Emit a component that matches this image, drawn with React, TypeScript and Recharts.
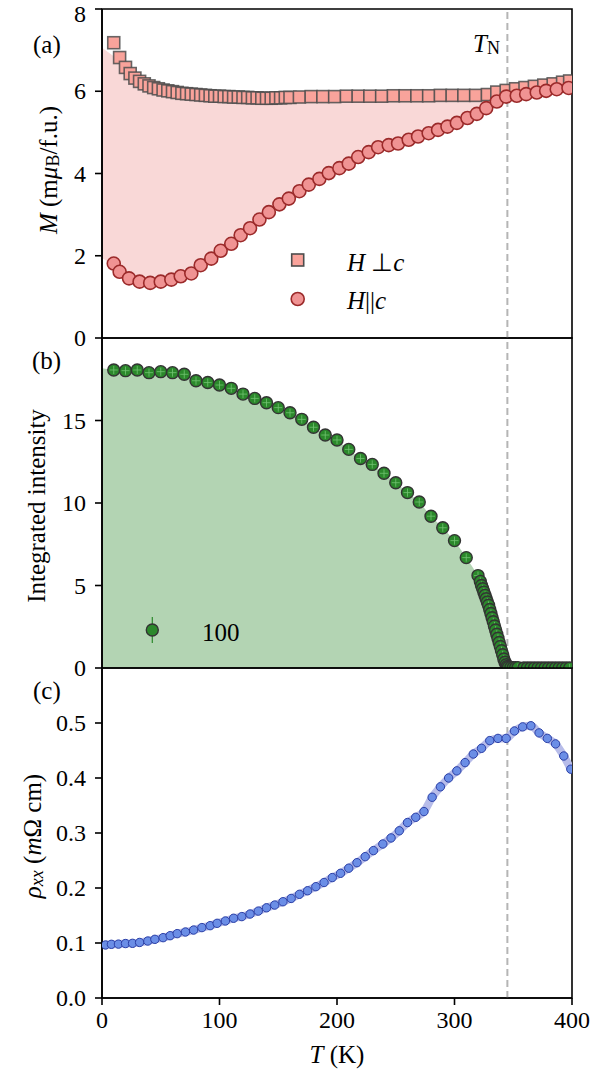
import React from 'react';
import {
  ComposedChart, Scatter, Area, Line, XAxis, YAxis, ReferenceLine, ReferenceArea,
} from 'recharts';

// (a) magnetization, H perpendicular to c (squares)
const T_PERP = [10, 15, 20, 24, 28, 32, 36, 40, 44, 48, 52, 56, 60, 64, 68, 72, 76, 80, 84, 88, 92, 96, 100, 104, 108, 112, 116, 120, 124, 128, 132, 136, 140, 144, 148, 152, 156, 160,
  168, 178, 188, 198, 208, 218, 228, 238, 248, 258, 268, 278, 288, 298, 308, 318, 328, 336, 344, 352, 360, 368, 376, 384, 392, 398];
const M_PERP = [7.18, 6.82, 6.58, 6.43, 6.32, 6.24, 6.18, 6.13, 6.09, 6.06, 6.03, 6.01, 5.99, 5.97, 5.95, 5.94, 5.93, 5.92, 5.91, 5.9, 5.89, 5.88, 5.88, 5.87, 5.87, 5.86, 5.86, 5.85, 5.85, 5.84, 5.84, 5.83, 5.83, 5.83, 5.84, 5.84, 5.85, 5.85,
  5.86, 5.87, 5.87, 5.87, 5.88, 5.88, 5.88, 5.88, 5.89, 5.89, 5.89, 5.89, 5.9, 5.9, 5.9, 5.9, 5.92, 5.98, 6.02, 6.06, 6.09, 6.12, 6.15, 6.18, 6.22, 6.25];

// (a) magnetization, H parallel to c (circles)
const T_PAR = [10, 15, 23, 32, 41, 50, 59, 67, 76, 84, 93, 101, 110, 118, 126, 134, 142, 151, 159, 168, 176, 185, 193, 202, 210, 218, 227, 235, 244, 252, 261, 269, 278, 286, 294, 302, 311, 319, 327, 336, 344, 353, 361, 370, 378, 387, 397];
const M_PAR = [1.81, 1.61, 1.45, 1.37, 1.34, 1.37, 1.42, 1.5, 1.57, 1.77, 1.93, 2.12, 2.29, 2.5, 2.67, 2.88, 3.06, 3.25, 3.39, 3.57, 3.73, 3.87, 4.01, 4.13, 4.24, 4.4, 4.52, 4.64, 4.69, 4.73, 4.82, 4.9, 4.98, 5.06, 5.14, 5.23, 5.35, 5.45, 5.59, 5.75, 5.87, 5.89, 5.93, 5.97, 6.01, 6.05, 6.08];

// (a) shaded band between the two curves
const BAND_T = [0, 10, 20, 30, 40, 50, 60, 70, 80, 90, 100, 120, 140, 160, 180, 200, 220, 240, 260, 280, 300, 320, 340, 360, 380, 400];
const BAND_LO = [1.94, 1.78, 1.5, 1.39, 1.35, 1.37, 1.43, 1.52, 1.68, 1.88, 2.1, 2.54, 3.02, 3.41, 3.79, 4.1, 4.42, 4.68, 4.81, 5.0, 5.21, 5.46, 5.82, 5.93, 6.02, 6.1];
const BAND_HI = [7.06, 6.85, 6.55, 6.28, 6.13, 6.05, 5.99, 5.95, 5.92, 5.9, 5.88, 5.85, 5.83, 5.85, 5.87, 5.87, 5.88, 5.88, 5.89, 5.89, 5.9, 5.9, 5.96, 6.08, 6.15, 6.2];

// (b) integrated intensity of the 100 peak
const T_INT = [10, 20, 30, 40, 50, 60, 70, 80, 90, 100, 110, 120, 130, 140, 150, 160, 170, 180, 190, 200, 210, 220, 230, 240, 250, 260, 270, 280, 290, 300, 310, 320,
  322, 323, 324, 325, 326, 327, 328, 329, 330, 331, 332, 333, 334, 335, 336, 337, 338, 339, 340, 341, 342, 343, 344, 345, 346, 348, 350, 352, 354,
  359, 362, 365, 368, 371, 374, 377, 380, 383, 386, 389, 392, 395, 398];
const INT_VAL = [18.06, 18.02, 18.06, 17.9, 17.96, 17.9, 17.8, 17.41, 17.3, 17.15, 16.95, 16.6, 16.34, 16.08, 15.78, 15.47, 15.07, 14.59, 14.12, 13.82, 13.25, 12.7, 12.34, 11.8, 11.23, 10.63, 10.06, 9.2, 8.5, 7.72, 6.69, 5.6,
  5.25, 5.0, 4.8, 4.6, 4.4, 4.2, 4.0, 3.8, 3.55, 3.3, 3.05, 2.8, 2.55, 2.3, 2.05, 1.8, 1.55, 1.3, 1.05, 0.8, 0.55, 0.35, 0.2, 0.1, 0.05, 0.03, 0.02, 0.02, 0.02,
  0, 0, 0, 0, 0, 0, 0, 0, 0, 0, 0, 0, 0, 0];
const FILL_T = [0, 10, 20, 30, 40, 50, 60, 70, 80, 90, 100, 110, 120, 130, 140, 150, 160, 170, 180, 190, 200, 210, 220, 230, 240, 250, 260, 270, 280, 290, 300, 310, 320, 325, 330, 335, 340, 344, 346];
const FILL_V = [18.16, 18.06, 18.02, 18.06, 17.9, 17.96, 17.9, 17.8, 17.41, 17.3, 17.15, 16.95, 16.6, 16.34, 16.08, 15.78, 15.47, 15.07, 14.59, 14.12, 13.82, 13.25, 12.7, 12.34, 11.8, 11.23, 10.63, 10.06, 9.2, 8.5, 7.72, 6.69, 5.6, 4.6, 3.55, 2.3, 1.05, 0.2, 0];

// (c) resistivity
const T_RHO = [3, 8, 14, 20, 26, 32, 39, 45, 52, 58, 64, 71, 78, 85, 92, 98, 105, 112, 119, 126, 133, 140, 147, 154, 161, 168, 175, 182, 189, 196,
  203, 210, 217, 224, 231, 239, 246, 253, 260, 267, 274, 281, 288, 295, 302, 309, 316, 323, 330, 337, 344, 351, 358, 365, 372, 379, 386, 393, 399];
const RHO = [0.0964, 0.0976, 0.098, 0.099, 0.0994, 0.101, 0.1036, 0.1067, 0.1097, 0.1133, 0.117, 0.12, 0.1236, 0.128, 0.1315, 0.1358, 0.14, 0.145, 0.148, 0.1527,
  0.158, 0.164, 0.169, 0.175, 0.181, 0.1885, 0.195, 0.2024, 0.21, 0.219, 0.2267, 0.236, 0.246, 0.257, 0.268, 0.28, 0.291, 0.304, 0.319, 0.3285,
  0.339, 0.365, 0.384, 0.4, 0.413, 0.428, 0.4436, 0.454, 0.468, 0.472, 0.472, 0.4855, 0.493, 0.495, 0.482, 0.472, 0.462, 0.44, 0.416];

const T_TICKS = [0, 100, 200, 300, 400];
const M_TICKS = [0, 2, 4, 6, 8];
const INT_TICKS = [0, 5, 10, 15];
const RHO_TICKS = [0, 0.1, 0.2, 0.3, 0.4, 0.5];
const T_N = 345;

const zip = (xs: number[], ys: number[]) => xs.map((T, i) => ({ T, v: ys[i] }));
const perp = zip(T_PERP, M_PERP);
const par = zip(T_PAR, M_PAR);
const band = BAND_T.map((T, i) => ({ T, lo: BAND_LO[i], hi: BAND_HI[i] }));
const intensity = zip(T_INT, INT_VAL);
const intFill = zip(FILL_T, FILL_V);
const rho = zip(T_RHO, RHO);

const FONT = 'Liberation Serif, serif';
const FS = 25;
const tickStyle = { fill: '#000', fontSize: 24, fontFamily: FONT };
const axisLine = { stroke: '#000', strokeWidth: 1.6 };

// y tick label; the topmost one of panel (a) sits at the page edge, nudge it in
const YTick = (p: any) => (
  <text x={p.x} y={p.y + (p.payload.value === 8 ? 5 : 0)} textAnchor="end" dominantBaseline="central"
    fill="#000" fontSize={24} fontFamily={FONT}>
    {p.tickFormatter ? p.tickFormatter(p.payload.value) : p.payload.value}
  </text>
);

const Square = (p: any) => (
  <rect x={p.cx - 6} y={p.cy - 6} width={12} height={12} fill="#f9a39b" stroke="#4d4d4d" strokeWidth={1.6} strokeOpacity={0.85} />
);
const PinkDot = (p: any) => (
  <circle cx={p.cx} cy={p.cy} r={6.5} fill="#f09393" stroke="#9b2a2a" strokeWidth={1.6} />
);
const GreenDot = (p: any) => (
  <g>
    <circle cx={p.cx} cy={p.cy} r={6} fill="#2b882b" stroke="#333" strokeWidth={1.4} />
    <line x1={p.cx - 4} x2={p.cx + 4} y1={p.cy} y2={p.cy} stroke="#72c472" strokeWidth={0.8} />
    <line x1={p.cx} x2={p.cx} y1={p.cy - 4} y2={p.cy + 4} stroke="#72c472" strokeWidth={0.8} />
  </g>
);
const BlueDot = (p: any) => (
  <circle cx={p.cx} cy={p.cy} r={4.2} fill="#6b8ee6" stroke="#2b3fa6" strokeWidth={1} />
);

const frame = (y2: number) => (
  <ReferenceArea x1={0} x2={400} y1={0} y2={y2} fill="none" stroke="#000" strokeWidth={1.6} ifOverflow="visible" />
);
const tnLine = <ReferenceLine x={T_N} stroke="#b5b5b5" strokeWidth={2} strokeDasharray="7 4" />;

const yAxisProps = {
  type: 'number' as const, dataKey: 'v', width: 102, tick: YTick, interval: 0 as const,
  tickSize: 7, tickMargin: 9, tickLine: axisLine, axisLine, allowDataOverflow: true,
};

function PanelA() {
  return (
    <ComposedChart width={612} height={400} data={band} margin={{ top: 39, right: 40, bottom: 32, left: 0 }}>
      <XAxis type="number" dataKey="T" domain={[0, 400]} ticks={T_TICKS} hide allowDataOverflow />
      <YAxis {...yAxisProps} domain={[0, 8]} ticks={M_TICKS} />
      {tnLine}
      <Area type="linear" dataKey={(d: any) => [d.lo, d.hi]} fill="#f9d8d7" fillOpacity={1} stroke="none" isAnimationActive={false} />
      <Scatter data={perp} shape={Square} isAnimationActive={false} />
      <Scatter data={par} shape={PinkDot} isAnimationActive={false} />
      {frame(8)}
    </ComposedChart>
  );
}

function PanelB() {
  return (
    <ComposedChart width={612} height={390} data={intFill} margin={{ top: 30, right: 40, bottom: 30, left: 0 }}>
      <XAxis type="number" dataKey="T" domain={[0, 400]} ticks={T_TICKS} hide allowDataOverflow />
      <YAxis {...yAxisProps} domain={[0, 20]} ticks={INT_TICKS} />
      {tnLine}
      <Area type="linear" dataKey="v" fill="#b3d4b3" fillOpacity={1} stroke="none" baseValue={0} isAnimationActive={false} />
      <Scatter data={intensity} shape={GreenDot} isAnimationActive={false} />
      {frame(20)}
    </ComposedChart>
  );
}

function PanelC() {
  return (
    <ComposedChart width={612} height={439} data={rho} margin={{ top: 30, right: 40, bottom: 0, left: 0 }}>
      <XAxis type="number" dataKey="T" domain={[0, 400]} ticks={T_TICKS} height={79} tick={tickStyle} interval={0}
        tickSize={7} tickMargin={6} tickLine={axisLine} axisLine={axisLine} allowDataOverflow />
      <YAxis {...yAxisProps} domain={[0, 0.6]} ticks={RHO_TICKS} tickFormatter={(v: number) => v.toFixed(1)} />
      {tnLine}
      <Line type="monotone" dataKey="v" stroke="#b7bce9" strokeWidth={8} dot={false} isAnimationActive={false} />
      <Scatter data={rho} shape={BlueDot} isAnimationActive={false} />
      {frame(0.6)}
    </ComposedChart>
  );
}

function Overlay() {
  const it = { fontStyle: 'italic' as const };
  return (
    <svg width={612} height={1077} style={{ position: 'absolute', left: 0, top: 0, pointerEvents: 'none' }}
      fontFamily={FONT} fontSize={FS} fill="#000">
      <text x={33} y={44} dominantBaseline="central">(a)</text>
      <text x={32} y={360} dominantBaseline="central">(b)</text>
      <text x={33} y={690} dominantBaseline="central">(c)</text>

      <text x={48} y={170} textAnchor="middle" dominantBaseline="central" transform="rotate(-90 48 170)">
        <tspan {...it}>M</tspan> (m<tspan {...it}>μ</tspan><tspan fontSize={18} dy={5}>B</tspan><tspan dy={-5}>/f.u.)</tspan>
      </text>
      <text x={36} y={506} textAnchor="middle" dominantBaseline="central" transform="rotate(-90 36 506)">
        Integrated intensity
      </text>
      <text x={32} y={836} textAnchor="middle" dominantBaseline="central" transform="rotate(-90 32 836)">
        <tspan {...it}>ρ</tspan><tspan {...it} fontSize={18} dy={5}>xx</tspan><tspan dy={-5}> (</tspan><tspan {...it}>m</tspan>Ω cm)
      </text>

      <text x={337} y={1054} textAnchor="middle" dominantBaseline="central">
        <tspan {...it}>T</tspan> (K)
      </text>

      <text x={473} y={43} dominantBaseline="central">
        <tspan {...it}>T</tspan><tspan fontSize={18} dy={5}>N</tspan>
      </text>

      <rect x={291.7} y={254} width={12} height={12} fill="#f9a39b" stroke="#4d4d4d" strokeWidth={1.6} />
      <text x={347} y={262} dominantBaseline="central"><tspan {...it}>H</tspan> ⊥<tspan {...it}>c</tspan></text>
      <circle cx={297.7} cy={299} r={6.5} fill="#f09393" stroke="#9b2a2a" strokeWidth={1.6} />
      <text x={347} y={300} dominantBaseline="central"><tspan {...it}>H</tspan>||<tspan {...it}>c</tspan></text>

      <line x1={152.3} x2={152.3} y1={617} y2={643} stroke="#2b882b" strokeWidth={1.2} />
      <circle cx={152.3} cy={630} r={6} fill="#2b882b" stroke="#333" strokeWidth={1.4} />
      <text x={202} y={632} dominantBaseline="central">100</text>
    </svg>
  );
}

export default function App() {
  return (
    <div style={{ position: 'absolute', left: 0, top: 0, width: 612, height: 1077, background: '#fff', fontFamily: FONT, overflow: 'hidden' }}>
      <div style={{ position: 'absolute', left: 0, top: -30 }}><PanelA /></div>
      <div style={{ position: 'absolute', left: 0, top: 308 }}><PanelB /></div>
      <div style={{ position: 'absolute', left: 0, top: 638 }}><PanelC /></div>
      <Overlay />
    </div>
  );
}
